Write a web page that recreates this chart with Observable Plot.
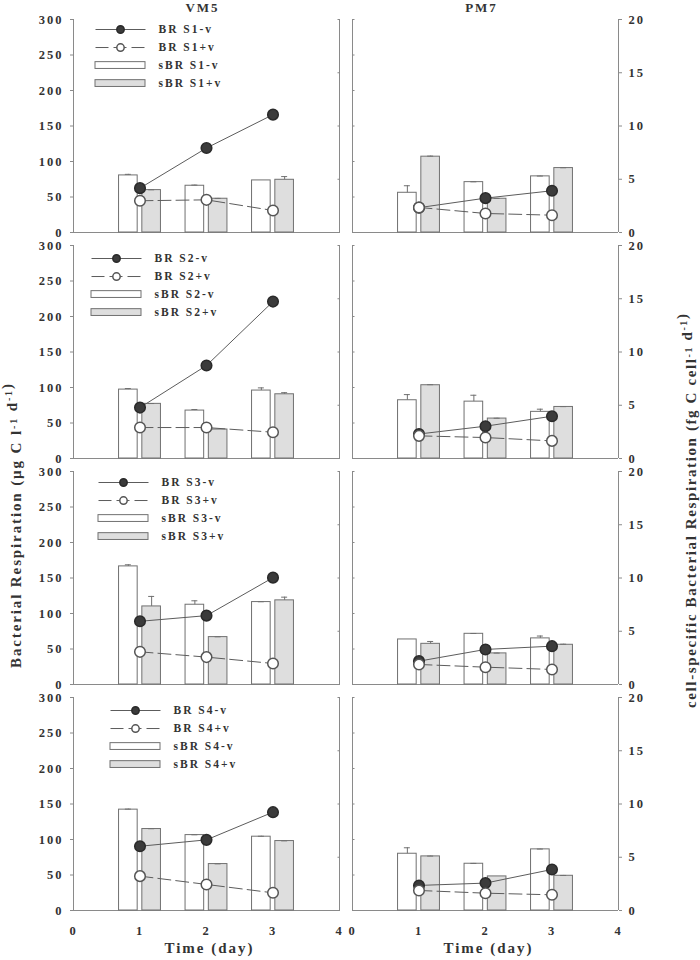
<!DOCTYPE html>
<html><head><meta charset="utf-8">
<script src="https://cdn.jsdelivr.net/npm/d3@7"></script>
<script src="https://cdn.jsdelivr.net/npm/@observablehq/plot@0.6"></script>
<style>
body{margin:0;background:#fff;}
#chart{width:700px;height:960px;overflow:hidden;}
</style></head><body><div id="chart"></div>
<script>
// ---------------- DATA ----------------
const days = [1, 2, 3];
const sites = ["VM5", "PM7"];
const series = ["S1", "S2", "S3", "S4"];

// Bacterial respiration BR (µg C l-1 d-1); rows S1..S4, columns day 1..3
const vm5BrMinus = [[62.5, 119, 166], [71.7, 131, 221], [89, 97, 150.5], [90.5, 99.5, 138.5]];
const vm5BrPlus  = [[44.7, 46, 31], [43.6, 43.6, 37], [46, 38.6, 29.6], [48.4, 36.7, 24.9]];
const vm5BrMinusErr = [[0, 0, 0], [0, 0, 5.5], [0, 0, 0], [0, 0, 0]];
const pm7BrMinus = [[35, 48.4, 58.8], [34.5, 45.5, 59.5], [32.9, 49.4, 54], [35.3, 38.6, 57.8]];
const pm7BrPlus  = [[35.3, 26.8, 24.4], [31.9, 29.5, 24.8], [28.2, 24.4, 21.2], [28.2, 24.4, 22.1]];
const pm7BrMinusErr = [[0, 0, 0], [0, 0, 0], [0, 0, 0], [0, 0, 0]];

// cell-specific respiration sBR (fg C cell-1 d-1)
const vm5SbrMinus = [[5.36, 4.39, 4.89], [6.47, 4.5, 6.38], [11.09, 7.49, 7.74], [9.47, 7.08, 6.93]];
const vm5SbrPlus  = [[3.98, 3.17, 4.95], [5.13, 2.72, 6.03], [7.33, 4.45, 7.9], [7.65, 4.36, 6.52]];
const vm5SbrMinusErr = [[0.1, 0.06, 0], [0.1, 0.1, 0.25], [0.15, 0.37, 0.03], [0.05, 0.03, 0.04]];
const vm5SbrPlusErr  = [[0.03, 0.03, 0.3], [0.03, 0, 0.15], [0.94, 0.03, 0.3], [0.03, 0.02, 0.02]];
const pm7SbrMinus = [[3.73, 4.73, 5.27], [5.47, 5.34, 4.38], [4.23, 4.76, 4.33], [5.33, 4.39, 5.74]];
const pm7SbrPlus  = [[7.12, 3.17, 6.05], [6.88, 3.75, 4.84], [3.82, 2.92, 3.73], [5.08, 3.2, 3.26]];
const pm7SbrMinusErr = [[0.66, 0.03, 0.03], [0.53, 0.6, 0.25], [0, 0.03, 0.22], [0.56, 0.03, 0.03]];
const pm7SbrPlusErr  = [[0.05, 0.03, 0.03], [0.05, 0.03, 0.03], [0.22, 0.03, 0.05], [0.03, 0, 0.03]];

const leftTicks = [0, 50, 100, 150, 200, 250, 300];
const rightTicks = [0, 5, 10, 15, 20];
const xTicks = [0, 1, 2, 3, 4];

// ---------------- TABLE ----------------
const k = 300 / 20; // right axis (0–20) mapped on left axis (0–300)
const bySite = {
  VM5: {brM: vm5BrMinus, brP: vm5BrPlus, brMe: vm5BrMinusErr, sbrM: vm5SbrMinus, sbrP: vm5SbrPlus, sbrMe: vm5SbrMinusErr, sbrPe: vm5SbrPlusErr},
  PM7: {brM: pm7BrMinus, brP: pm7BrPlus, brMe: pm7BrMinusErr, sbrM: pm7SbrMinus, sbrP: pm7SbrPlus, sbrMe: pm7SbrMinusErr, sbrPe: pm7SbrPlusErr}
};
const rows = sites.flatMap(site => series.flatMap((s, j) => days.map((day, i) => {
  const t = bySite[site];
  return {site, s, day, brM: t.brM[j][i], brP: t.brP[j][i], brMe: t.brMe[j][i],
          sbrM: t.sbrM[j][i], sbrP: t.sbrP[j][i], sbrMe: t.sbrMe[j][i], sbrPe: t.sbrPe[j][i]};
})));

// ---------------- STYLE / LAYOUT ----------------
const axisGray = "#8a8a8a", ink = "#333", lineCol = "#5c5c5c", barStroke = "#707070", barFill = "#dedede";
const W = 0.28, G = 0.035, cap = 0.045;
const pxPerDay = 66.5, pxPerUnit = 212.8 / 300;
const pxX = px => px / pxPerDay;
const pxY = px => 300 - px / pxPerUnit;
const L = {left: [22, 18, 25, 37], top: [10, 13, 11, 13], step: 18, sw: 50, tx: 63, rh: 3.4};
const kinds = ["brM", "brP", "sbrM", "sbrP"];
const legend = series.flatMap((s, j) => kinds.map((kind, r) => ({
  site: "VM5", s, kind,
  label: (kind.startsWith("br") ? "BR " : "sBR ") + s + (kind.endsWith("M") ? "-v" : "+v"),
  x0: pxX(L.left[j]), x1: pxX(L.left[j] + L.sw), xm: pxX(L.left[j] + L.sw / 2), xt: pxX(L.left[j] + L.tx),
  y: pxY(L.top[j] + r * L.step), y1: pxY(L.top[j] + r * L.step + L.rh), y2: pxY(L.top[j] + r * L.step - L.rh)
})));
const lg = kind => legend.filter(d => d.kind === kind);
const F = {fx: "site", fy: "s"};
const LEFT_TITLE = "Bacterial Respiration";
const RIGHT_TITLE = "cell-specific Bacterial Respiration";

const chart = Plot.plot({
  width: 700, height: 960,
  marginLeft: 73, marginRight: 82, marginTop: 18, marginBottom: 50,
  style: {fontFamily: "'Liberation Serif','Times New Roman',serif", fontWeight: "bold", fontSize: "12.5px", letterSpacing: "2px", background: "white", color: ink},
  fx: {domain: sites, padding: 13 / 279, axis: null},
  fy: {domain: series, padding: 13.5 / 226.3, axis: null},
  x: {domain: [0, 4], label: null},
  y: {domain: [0, 300], label: null},
  marks: [
    Plot.ruleX([0, 4], {stroke: axisGray}),
    Plot.ruleY([0], {stroke: axisGray}),
    // bars (sBR, right axis)
    Plot.rect(rows, {...F, x1: d => d.day - G - W, x2: d => d.day - G, y1: 0, y2: d => d.sbrM * k, fill: "white", stroke: barStroke}),
    Plot.rect(rows, {...F, x1: d => d.day + G, x2: d => d.day + G + W, y1: 0, y2: d => d.sbrP * k, fill: barFill, stroke: barStroke}),
    Plot.ruleX(rows.filter(d => d.sbrMe > 0), {...F, x: d => d.day - G - W / 2, y1: d => d.sbrM * k, y2: d => (d.sbrM + d.sbrMe) * k, stroke: barStroke}),
    Plot.ruleY(rows.filter(d => d.sbrMe > 0), {...F, y: d => (d.sbrM + d.sbrMe) * k, x1: d => d.day - G - W / 2 - cap, x2: d => d.day - G - W / 2 + cap, stroke: barStroke}),
    Plot.ruleX(rows.filter(d => d.sbrPe > 0), {...F, x: d => d.day + G + W / 2, y1: d => d.sbrP * k, y2: d => (d.sbrP + d.sbrPe) * k, stroke: barStroke}),
    Plot.ruleY(rows.filter(d => d.sbrPe > 0), {...F, y: d => (d.sbrP + d.sbrPe) * k, x1: d => d.day + G + W / 2 - cap, x2: d => d.day + G + W / 2 + cap, stroke: barStroke}),
    // BR lines and points (left axis)
    Plot.line(rows, {...F, x: "day", y: "brP", stroke: lineCol, strokeWidth: 1, strokeDasharray: "13,5"}),
    Plot.line(rows, {...F, x: "day", y: "brM", stroke: lineCol, strokeWidth: 1}),
    Plot.ruleX(rows.filter(d => d.brMe > 0), {...F, x: "day", y1: d => d.brM - d.brMe, y2: d => d.brM + d.brMe, stroke: lineCol}),
    Plot.ruleY(rows.filter(d => d.brMe > 0), {...F, y: d => d.brM + d.brMe, x1: d => d.day - cap, x2: d => d.day + cap, stroke: lineCol}),
    Plot.ruleY(rows.filter(d => d.brMe > 0), {...F, y: d => d.brM - d.brMe, x1: d => d.day - cap, x2: d => d.day + cap, stroke: lineCol}),
    Plot.dot(rows, {...F, x: "day", y: "brM", r: 5.3, fill: "#3b3b3b", stroke: "#2a2a2a"}),
    Plot.dot(rows, {...F, x: "day", y: "brP", r: 5.3, fill: "white", stroke: "#555"}),
    // axes
    Plot.axisY({anchor: "left", ticks: leftTicks, tickFormat: d => String(d), tickSize: 3, tickPadding: 7, stroke: axisGray, fill: ink, label: null}),
    Plot.axisY({anchor: "right", ticks: rightTicks.map(v => v * k), tickFormat: v => String(v / k), tickSize: 3, tickPadding: 7, stroke: axisGray, fill: ink, label: null}),
    Plot.axisY({anchor: "right", facetAnchor: "left", ticks: rightTicks.map(v => v * k), tickSize: 2.5, insetRight: 2.5, stroke: axisGray, fill: "none", label: null}),
    Plot.axisY({anchor: "left", facetAnchor: "right", ticks: leftTicks, tickSize: 2.5, insetLeft: 2.5, stroke: axisGray, fill: "none", label: null}),
    Plot.axisX({anchor: "bottom", ticks: xTicks, tickFormat: d => String(d), tickSize: 0, tickPadding: 16, stroke: axisGray, fill: ink, label: null}),
    // legends
    Plot.link(lg("brM"), {...F, x1: "x0", x2: "x1", y1: "y", y2: "y", stroke: lineCol}),
    Plot.link(lg("brP"), {...F, x1: "x0", x2: "x1", y1: "y", y2: "y", stroke: lineCol, strokeDasharray: "13,5"}),
    Plot.dot(lg("brM"), {...F, x: "xm", y: "y", r: 3.7, fill: "#3b3b3b", stroke: "#2a2a2a"}),
    Plot.dot(lg("brP"), {...F, x: "xm", y: "y", r: 3.7, fill: "white", stroke: "#555"}),
    Plot.rect(lg("sbrM"), {...F, x1: "x0", x2: "x1", y1: "y1", y2: "y2", fill: "white", stroke: barStroke}),
    Plot.rect(lg("sbrP"), {...F, x1: "x0", x2: "x1", y1: "y1", y2: "y2", fill: barFill, stroke: barStroke}),
    Plot.text(legend, {...F, x: "xt", y: "y", text: "label", textAnchor: "start", fontSize: 11.5, fill: ink}),
    // titles
    Plot.text(sites, {fx: d => d, fy: () => "S1", text: d => d, frameAnchor: "top", dy: -17, dx: -4, fontSize: 13, fill: ink}),
    Plot.text(sites, {fx: d => d, fy: () => "S4", text: () => "Time (day)", frameAnchor: "bottom", dy: 42, dx: 3, fontSize: 15, fill: ink}),
    Plot.text([LEFT_TITLE], {fx: () => "VM5", fy: () => "S3", text: d => d, frameAnchor: "left", textAnchor: "middle", dx: -57, dy: -52, rotate: -90, fontSize: 15, fill: ink}),
    Plot.text([RIGHT_TITLE], {fx: () => "PM7", fy: () => "S3", text: d => d, frameAnchor: "right", textAnchor: "middle", dx: 73, dy: -67, rotate: -90, fontSize: 15, fill: ink})
  ]
});
document.getElementById("chart").appendChild(chart);

// axis titles with superscripts
function titleParts(content, parts, len) {
  const t = d3.select(chart).selectAll("text").filter(function () { return this.textContent === content; });
  if (t.empty()) return;
  t.text(null).attr("textLength", len).attr("lengthAdjust", "spacing").style("letter-spacing", "0px");
  for (const [txt, sup] of parts) {
    if (sup) { t.append("tspan").attr("dy", -4.5).attr("font-size", 10).text(txt); t.append("tspan").attr("dy", 4.5).text(""); }
    else t.append("tspan").text(txt);
  }
}
titleParts(LEFT_TITLE, [["Bacterial Respiration (µg C l"], ["-1", 1], [" d"], ["-1", 1], [")"]], 284);
titleParts(RIGHT_TITLE, [["cell-specific Bacterial Respiration (fg C cell"], ["-1", 1], [" d"], ["-1", 1], [")"]], 394);
</script>
</body></html>
